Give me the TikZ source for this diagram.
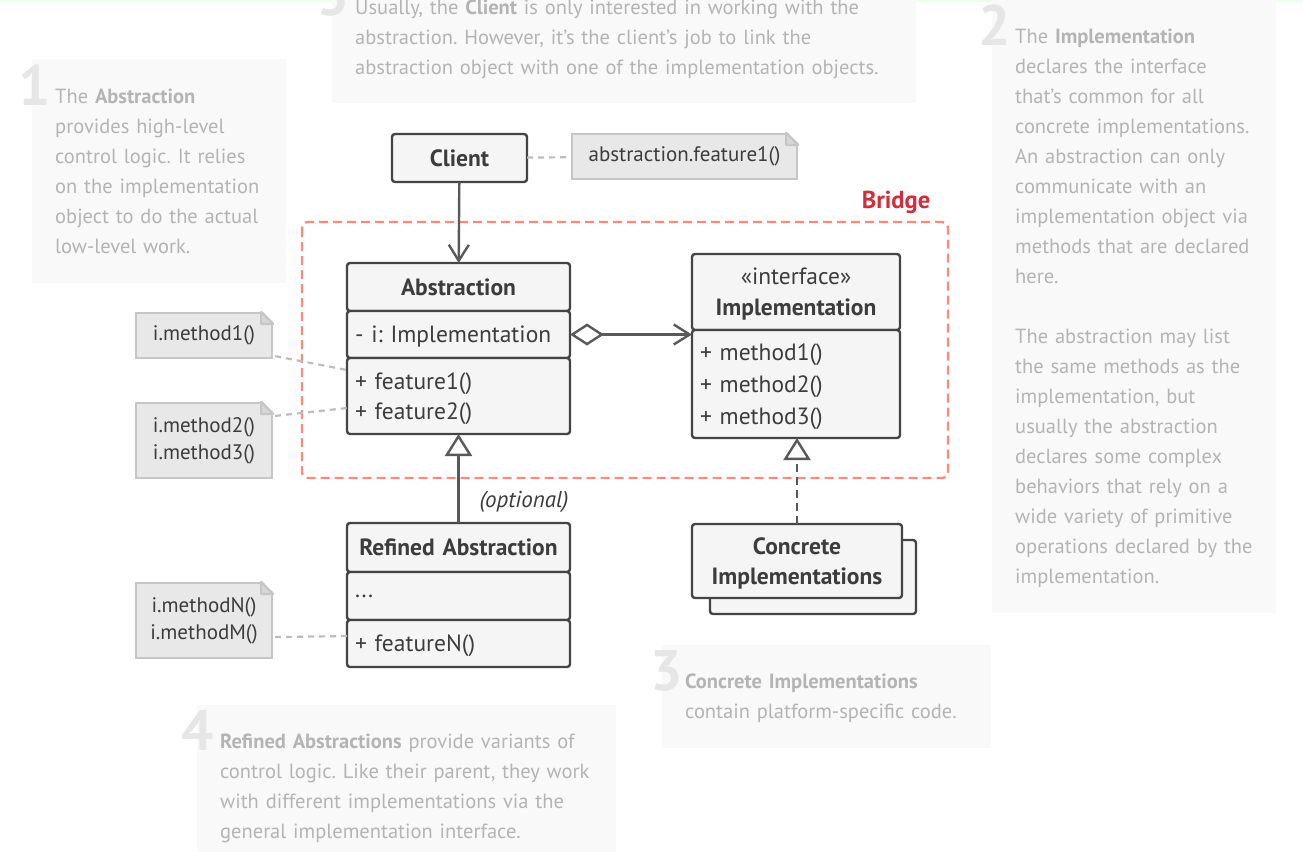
\documentclass[tikz,border=0pt]{standalone}
\usepackage{fontspec}
\setmainfont{PT Sans}
\usetikzlibrary{positioning,arrows.meta,calc}

\definecolor{edgegray}{HTML}{444444}
\definecolor{boxfill}{HTML}{F5F5F5}
\definecolor{textdark}{HTML}{3C3C3C}
\definecolor{notefill}{HTML}{E8E8E8}
\definecolor{noteedge}{HTML}{C6C6C6}
\definecolor{linkgray}{HTML}{BDBDBD}
\definecolor{arrowgray}{HTML}{595959}
\definecolor{bridgeline}{HTML}{F98B78}
\definecolor{bridgered}{HTML}{D12D3B}
\definecolor{panelfill}{HTML}{F9F9F9}
\definecolor{paneltext}{HTML}{B4B4B4}
\definecolor{panelnum}{HTML}{E6E6E6}

\tikzset{
  classpart/.style={draw=edgegray, fill=boxfill, line width=2.4pt, rounded corners=3pt,
    inner xsep=8pt, inner ysep=0pt, outer sep=0pt, text=textdark},
  classhead/.style={classpart, align=center, font=\fontsize{23.5}{31}\selectfont\bfseries},
  classbody/.style={classpart, align=left, font=\fontsize{23.5}{30}\selectfont},
  notebox/.style={draw=noteedge, fill=notefill, line width=2.2pt, inner sep=0pt,
    minimum width=136pt, align=center, text=textdark, font=\fontsize{21}{27}\selectfont},
  notelink/.style={linkgray, line width=2.2pt, dash pattern=on 6pt off 5pt},
  umlopen/.tip={Straight Barb[length=16pt, width=20pt, line width=2.4pt]},
  umldiamond/.tip={Diamond[fill=white, length=34pt, width=22pt, line width=2.4pt]},
  umlgen/.tip={Triangle[fill=white, length=22pt, width=27pt, line width=2.4pt]},
  assoc/.style={arrowgray, line width=2.4pt, -umlopen},
  paneltxt/.style={anchor=base west, align=left, inner sep=0pt, text=paneltext,
    font=\fontsize{20.5}{30}\selectfont},
  panelnum/.style={anchor=base west, inner sep=0pt, text=panelnum,
    font=\fontsize{57}{57}\selectfont\bfseries},
}

\newcommand{\notecorner}[1]{%
  \fill[white] ($(#1.north east)+(-12pt,2pt)$) -- ($(#1.north east)+(2pt,2pt)$)
    -- ($(#1.north east)+(2pt,-12pt)$) -- cycle;
  \draw[noteedge, line width=2.2pt, fill=noteedge!70, line join=round]
    ($(#1.north east)+(-12pt,0pt)$) -- ($(#1.north east)+(0pt,-12pt)$)
    -- ($(#1.north east)+(-12pt,-12pt)$) -- cycle;}

\begin{document}
\frenchspacing
\begin{tikzpicture}[x=1pt, y=-1pt]
\useasboundingbox (0,0) rectangle (1303,852);
\fill[white] (0,0) rectangle (1303,852);
\draw[green!8, line width=3pt] (0,0.5) -- (1303,0.5);

% explanation panels
\fill[panelfill] (332,0) rectangle (916,103);
\fill[panelfill] (32,59) rectangle (286,283);
\fill[panelfill] (992,0) rectangle (1276,613);
\fill[panelfill] (662,645) rectangle (991,748);
\fill[panelfill] (197,705) rectangle (616,852);

\node[panelnum] (num-5) at (317,15) {5};
\node[panelnum] (num-1) at (18,105) {1};
\node[panelnum] (num-2) at (978,45) {2};
\node[panelnum] (num-3) at (650,690) {3};
\node[panelnum] (num-4) at (181,750) {4};

\node[paneltxt, text width=600pt] (txt-5) at (355,14)
  {Usually, the \textbf{Client} is only interested in working with the\\
   abstraction. However, it’s the client’s job to link the\\
   abstraction object with one of the implementation objects.};
\node[paneltxt, text width=260pt] (txt-1) at (55,103)
  {The \textbf{Abstraction}\\provides high-level\\control logic. It relies\\
   on the implementation\\object to do the actual\\low-level work.};
\node[paneltxt, text width=280pt] (txt-2) at (1015,43)
  {The \textbf{Implementation}\\declares the interface\\that’s common for all\\
   concrete implementations.\\An abstraction can only\\communicate with an\\
   implementation object via\\methods that are declared\\here.\\[30pt]
   The abstraction may list\\the same methods as the\\implementation, but\\
   usually the abstraction\\declares some complex\\behaviors that rely on a\\
   wide variety of primitive\\operations declared by the\\implementation.};
\node[paneltxt, text width=310pt] (txt-3) at (685,688)
  {\textbf{Concrete Implementations}\\contain platform-specific code.};
\node[paneltxt, text width=400pt] (txt-4) at (220,748)
  {\textbf{Refined Abstractions} provide variants of\\
   control logic. Like their parent, they work\\
   with different implementations via the\\
   general implementation interface.};

% bridge frame
\draw[bridgeline, line width=2.4pt, dash pattern=on 9pt off 5pt, rounded corners=6pt]
  (302,222) rectangle (948,478);
\node[text=bridgered, font=\fontsize{24.5}{24.5}\selectfont\bfseries] (bridge-lbl) at (896,202) {Bridge};

% client
\node[classhead, minimum width=135pt, minimum height=48pt] (client) at (459.5,158) {Client};
\node[notebox, minimum width=225pt, minimum height=45pt] (note-cl) at (684.5,156.5) {abstraction.feature1()};
\notecorner{note-cl}

% abstraction
\node[classhead, text width=207pt, minimum height=48pt] (abs-head) at (458.5,287) {Abstraction};
\node[classbody, text width=207pt, minimum height=47pt, text depth=0pt, below=0pt of abs-head] (abs-attr) {- i: Implementation};
\node[classbody, text width=207pt, minimum height=76pt, text depth=30pt, below=0pt of abs-attr] (abs-ops) {+ feature1()\\+ feature2()};

% implementation
\node[classhead, text width=192pt, minimum height=76pt, text depth=31pt, font=\fontsize{23.5}{31}\selectfont]
  (impl-head) at (796,292) {«interface»\\\textbf{Implementation}};
\node[classbody, text width=192pt, minimum height=108pt, text depth=64pt, below=0pt of impl-head,
  font=\fontsize{23.5}{32}\selectfont] (impl-ops) {+ method1()\\+ method2()\\+ method3()};

% refined abstraction
\node[classhead, text width=207pt, minimum height=49pt] (ref-head) at (458.5,547.5) {Refined Abstraction};
\node[classbody, text width=207pt, minimum height=48pt, below=0pt of ref-head] (ref-attr) {...};
\node[classbody, text width=207pt, minimum height=47pt, text depth=0pt, below=0pt of ref-attr] (ref-ops) {+ featureN()};

% concrete implementations
\node[classpart, minimum width=206pt, minimum height=74pt] (conc-back) at (813,577) {};
\node[classhead, text width=194pt, minimum height=74pt, text depth=30pt, font=\fontsize{23.5}{30}\selectfont\bfseries]
  (conc) at (797,561) {Concrete\\Implementations};

% notes for the abstraction side
\node[notebox, minimum height=45pt] (note-m1) at (204,335.5) {i.method1()};
\notecorner{note-m1}
\node[notebox, minimum height=75pt] (note-m2) at (204,440.5) {i.method2()\\i.method3()};
\notecorner{note-m2}
\node[notebox, minimum height=75pt] (note-mn) at (204,620.5) {i.methodN()\\i.methodM()};
\notecorner{note-mn}

% connectors
\draw[assoc] (client) -- (abs-head);
\draw[arrowgray, line width=2.4pt, umldiamond-umlopen] (abs-attr.east) -- (abs-attr.east -| impl-ops.west);
\draw[arrowgray, line width=2.4pt, -umlgen] (ref-head) -- (abs-ops);
\draw[arrowgray, line width=2.4pt, dash pattern=on 8pt off 5pt, -umlgen] (conc.north) -- (conc.north |- impl-ops.south);
\node[text=textdark, font=\fontsize{23}{23}\selectfont\itshape] (opt-lbl) at (524,502) {(optional)};

\draw[notelink] (client) -- (note-cl);
\draw[notelink] ($(note-m1.south east)+(2pt,3pt)$) -- ($(abs-ops.north west)+(0pt,-12pt)$);
\draw[notelink] ($(note-m2.north east)+(2pt,-14pt)$) -- ($(abs-ops.south west)+(0pt,26pt)$);
\draw[notelink] ($(note-mn.south east)+(2pt,22pt)$) -- ($(ref-ops.north west)+(0pt,-16pt)$);
\end{tikzpicture}
\end{document}
